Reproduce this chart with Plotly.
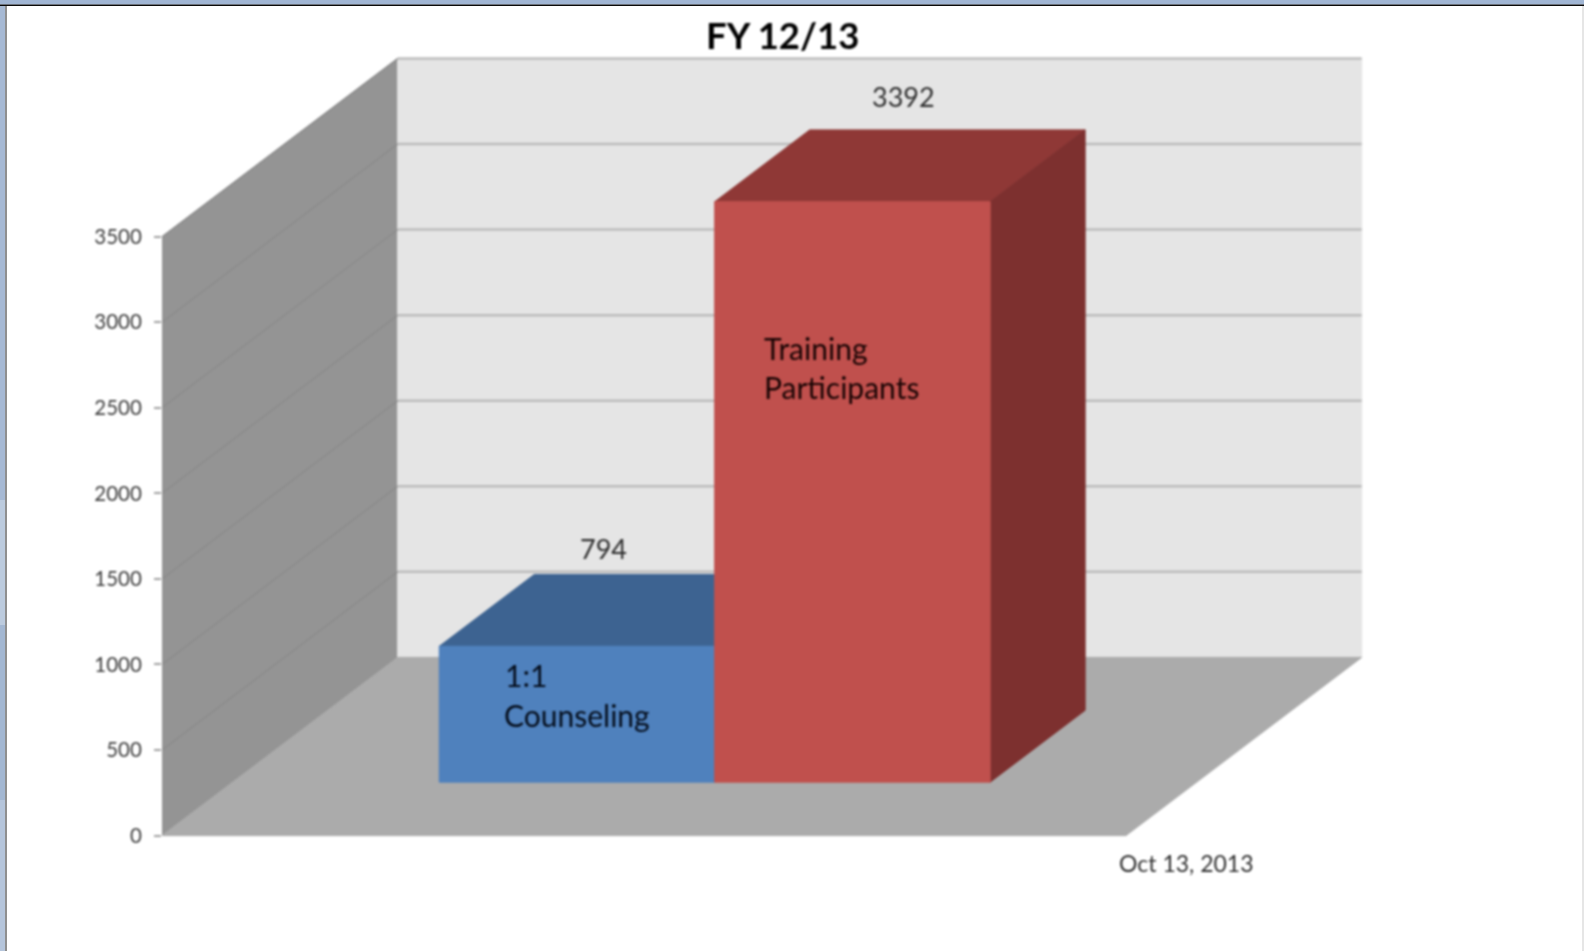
import plotly.graph_objects as go

# ---- data ----
categories = ["1:1 Counseling", "Training Participants"]
values = [794, 3392]
value_ticks = [0, 500, 1000, 1500, 2000, 2500, 3000, 3500]
date_label = "Oct 13, 2013"
title_text = "FY 12/13"

# ---- page geometry (pixels) ----
W, H = 1584, 951
X0_PX, X1_PX = 162.0, 1126.0          # floor front edge
Y0_PX, Y3500_PX = 835.6, 236.7        # value axis
PX_PER_VAL = (Y0_PX - Y3500_PX) / 3500
PX_PER_X = X1_PX - X0_PX

# oblique projection: depth z in 0..1 shifts a point right and up
DX_PX, DY_PX = 235.7, 178.2
KX = DX_PX / PX_PER_X
KY = DY_PX / PX_PER_VAL

GAP = 1.5 / 2            # Excel gap width 150 %, per side, in bar widths
BAR_W = 1 / (len(categories) + 2 * GAP)
Z0, Z1 = 0.30, 0.703      # bar depth span

def proj(x, v, z):
    return x + KX * z, v + KY * z

def poly(points, color, name, line=None):
    xs, ys = zip(*[proj(*p) for p in points])
    return go.Scatter(x=list(xs) + [xs[0]], y=list(ys) + [ys[0]], mode="lines",
                      fill="toself", fillcolor=color, hoverinfo="skip", name=name,
                      showlegend=False,
                      line=dict(color=line or color, width=1))

def seg(points, color, width, name):
    xs, ys = zip(*[proj(*p) for p in points])
    return go.Scatter(x=list(xs), y=list(ys), mode="lines", hoverinfo="skip", name=name,
                      showlegend=False, line=dict(color=color, width=width))

TOP = value_ticks[-1]
fig = go.Figure()
# walls and floor
fig.add_trace(poly([(0, 0, 0), (0, 0, 1), (0, TOP, 1), (0, TOP, 0)], "#949494", "side wall"))
fig.add_trace(poly([(0, 0, 1), (1, 0, 1), (1, TOP, 1), (0, TOP, 1)], "#e5e5e5", "back wall"))
fig.add_trace(poly([(0, 0, 0), (1, 0, 0), (1, 0, 1), (0, 0, 1)], "#ababab", "floor"))
for v in value_ticks[1:]:
    fig.add_trace(seg([(0, v, 1), (1, v, 1)], "#bcbcbc", 2.5, "grid back"))
    fig.add_trace(seg([(0, v, 0), (0, v, 1)], "#8a8a8a", 1.2, "grid side"))

# bars
faces = [("#4f81bd", "#3d6391", "#37587f"), ("#c0504d", "#8f3836", "#7d302f")]
for i, (cat, val) in enumerate(zip(categories, values)):
    x0 = GAP * BAR_W + i * BAR_W
    x1 = x0 + BAR_W
    front, top, side = faces[i]
    fig.add_trace(poly([(x0, val, Z0), (x1, val, Z0), (x1, val, Z1), (x0, val, Z1)], top, cat + " top"))
    fig.add_trace(poly([(x1, 0, Z0), (x1, val, Z0), (x1, val, Z1), (x1, 0, Z1)], side, cat + " side"))
    fig.add_trace(poly([(x0, 0, Z0), (x1, 0, Z0), (x1, val, Z0), (x0, val, Z0)], front, cat))

# ---- texts ----
def px(x): return (x - X0_PX) / PX_PER_X
def py(y): return (Y0_PX - y) / PX_PER_VAL

def label(x, y, text, size, color, anchor="center", bold=False):
    fig.add_annotation(x=px(x), y=py(y), xref="x", yref="y", text=f"<b>{text}</b>" if bold else text,
                       showarrow=False, xanchor=anchor, yanchor="middle",
                       font=dict(family="Lato", size=size, color=color))

label(782, 35, title_text, 36.5, "#000000", bold=True)
label(903, 96, str(values[1]), 27, "#2e2e2e")
label(603, 548, str(values[0]), 27, "#2e2e2e")
label(762, 348, "Training", 30, "#180404", "left")
label(762, 387, "Participants", 30, "#180404", "left")
label(503, 675, "1:1", 30, "#050e1c", "left")
label(502, 715, "Counseling", 30, "#050e1c", "left")
label(1186, 863, date_label, 23, "#2e2e2e")

# ---- window frame around the picture ----
frame = [
    (0, 0, W, 4.5, "#a0b5d3"),
    (0, 4.5, W, 6, "#0a0a0a"),
    (0, 6, 5, 500, "#a6b9d4"),
    (0, 500, 5, 625, "#bccbde"),
    (0, 625, 5, 800, "#a3b7d2"),
    (0, 800, 5, H, "#b5c5db"),
    (5, 6, 7, H, "#8f8f8f"),
    (1582, 6, W, H, "#e6e6e6"),
]
shapes = [dict(type="rect", xref="paper", yref="paper",
               x0=a / W, x1=c / W, y0=1 - b / H, y1=1 - d / H,
               fillcolor=col, line=dict(width=0), layer="above")
          for a, b, c, d, col in frame]

fig.update_layout(
    width=W, height=H, margin=dict(l=0, r=0, t=0, b=0),
    autosize=False, paper_bgcolor="white", plot_bgcolor="rgba(0,0,0,0)",
    showlegend=False, shapes=shapes,
    xaxis=dict(domain=[X0_PX / W, 1], range=[0, (W - X0_PX) / PX_PER_X],
               visible=False, fixedrange=True),
    yaxis=dict(domain=[0, 1], range=[(Y0_PX - H) / PX_PER_VAL, Y0_PX / PX_PER_VAL],
               tickmode="array", tickvals=value_ticks,
               ticks="outside", ticklen=7, tickwidth=1.5, tickcolor="#a0a0a0",
               ticklabelstandoff=8,
               tickfont=dict(family="Lato", size=20.5, color="#3c3c3c"),
               showgrid=False, zeroline=False, showline=False, fixedrange=True),
)

fig.write_html("out.html", config=dict(displayModeBar=False),
               post_script="document.body.style.margin='0';document.body.style.overflow='hidden';"
                           "document.querySelectorAll('.cartesianlayer, .infolayer')"
                           ".forEach(function(e){e.style.filter='blur(0.8px)';});")
